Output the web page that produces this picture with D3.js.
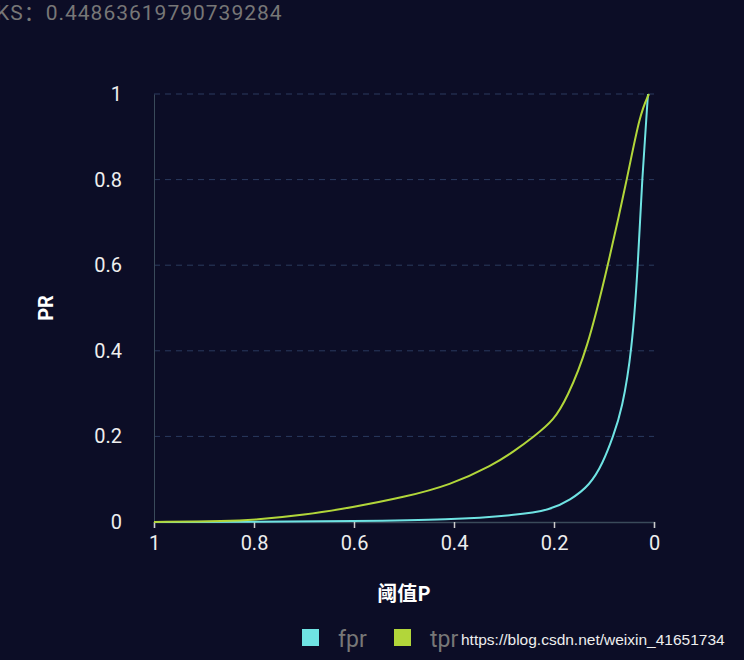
<!DOCTYPE html>
<html>
<head>
<meta charset="utf-8">
<script src="https://d3js.org/d3.v7.min.js"></script>
<style>
  body { margin: 0; background: #0c0d26; }
  svg { display: block; }
</style>
</head>
<body>
<div id="chart"></div>
<script>
const tprPoints = [
  [1, 0], [0.85, 0.002], [0.8, 0.005], [0.7, 0.016], [0.6, 0.035], [0.5, 0.058],
  [0.408, 0.086], [0.322, 0.133], [0.28, 0.165], [0.24, 0.20], [0.2, 0.238], [0.174, 0.29],
  [0.134, 0.40], [0.092, 0.60], [0.054, 0.80], [0.028, 0.955], [0.01, 1.0]
];
const fprPoints = [
  [1, 0], [0.8, 0], [0.6, 0.002], [0.408, 0.005], [0.274, 0.016], [0.208, 0.028],
  [0.168, 0.051], [0.128, 0.086], [0.102, 0.138], [0.082, 0.199], [0.064, 0.262],
  [0.044, 0.40], [0.032, 0.60], [0.024, 0.80], [0.012, 1.0]
];
const xTicks = [1, 0.8, 0.6, 0.4, 0.2, 0];
const yTicks = [0, 0.2, 0.4, 0.6, 0.8, 1];
const ksValue = "0.44863619790739284";

const W = 744, H = 660;
const margin = {top: 94, right: 90, bottom: 138, left: 154};
const font = "Roboto, 'Noto Sans CJK SC', sans-serif";

const svg = d3.select("#chart").append("svg").attr("width", W).attr("height", H)
  .style("font-family", font);
svg.append("rect").attr("width", W).attr("height", H).attr("fill", "#0c0d26");

const x = d3.scaleLinear().domain([1, 0]).range([margin.left, W - margin.right]);
const y = d3.scaleLinear().domain([0, 1]).range([H - margin.bottom, margin.top]);

// grid
svg.append("g").selectAll("line").data(yTicks.slice(1)).join("line")
  .attr("x1", x(1)).attr("x2", x(0))
  .attr("y1", d => y(d)).attr("y2", d => y(d))
  .attr("stroke", "#2a3a5e").attr("stroke-dasharray", "6,5");

// y axis
const yAxis = svg.append("g").attr("transform", `translate(${margin.left},0)`)
  .call(d3.axisLeft(y).tickValues(yTicks).tickFormat(d3.format("~g")).tickSize(0).tickPadding(32));
yAxis.select(".domain").attr("stroke", "#3a4a5a");
yAxis.selectAll("text").attr("fill", "#eee").attr("font-size", 20).style("font-family", font);

// x axis
const xAxis = svg.append("g").attr("transform", `translate(0,${y(0)})`)
  .call(d3.axisBottom(x).tickValues(xTicks).tickFormat(d3.format("~g")).tickSize(6).tickPadding(8));
xAxis.select(".domain").attr("stroke", "#3a4a5a").attr("stroke-width", 1.5);
xAxis.selectAll(".tick line").attr("stroke", "#ccc").attr("stroke-width", 1.5);
xAxis.selectAll("text").attr("fill", "#eee").attr("font-size", 20).style("font-family", font);

const line = d3.line().x(d => x(d[0])).y(d => y(d[1])).curve(d3.curveBasis);
svg.append("path").datum(fprPoints).attr("d", line)
  .attr("fill", "none").attr("stroke", "#6fe3e3").attr("stroke-width", 2);
svg.append("path").datum(tprPoints).attr("d", line)
  .attr("fill", "none").attr("stroke", "#b2d63a").attr("stroke-width", 2);

// axis titles
svg.append("text").attr("x", 404).attr("y", 601).attr("text-anchor", "middle")
  .attr("fill", "#fff").attr("font-size", 20).attr("font-weight", "bold")
  .style("font-family", "'Noto Sans CJK SC', sans-serif").text("阈值P");
svg.append("text").attr("transform", "translate(53,308) rotate(-90)").attr("text-anchor", "middle")
  .attr("fill", "#fff").attr("font-size", 20).attr("font-weight", "bold").text("PR");

// KS title
svg.append("text").attr("x", -4).attr("y", 20).attr("fill", "#777").attr("font-size", 21)
  .attr("letter-spacing", 1).text("KS：" + ksValue);

// legend
const legend = [["fpr", "#6fe3e3", 302], ["tpr", "#b2d63a", 394]];
legend.forEach(([name, color, lx]) => {
  svg.append("rect").attr("x", lx).attr("y", 629).attr("width", 17).attr("height", 17).attr("fill", color);
  svg.append("text").attr("x", lx + 36).attr("y", 647).attr("fill", "#777").attr("font-size", 23)
    .text(name);
});
svg.append("text").attr("x", 461).attr("y", 645).attr("fill", "#eee").attr("font-size", 15.5)
  .attr("font-family", "Arimo, 'Liberation Sans', sans-serif").text("https://blog.csdn.net/weixin_41651734");
</script>
</body>
</html>
